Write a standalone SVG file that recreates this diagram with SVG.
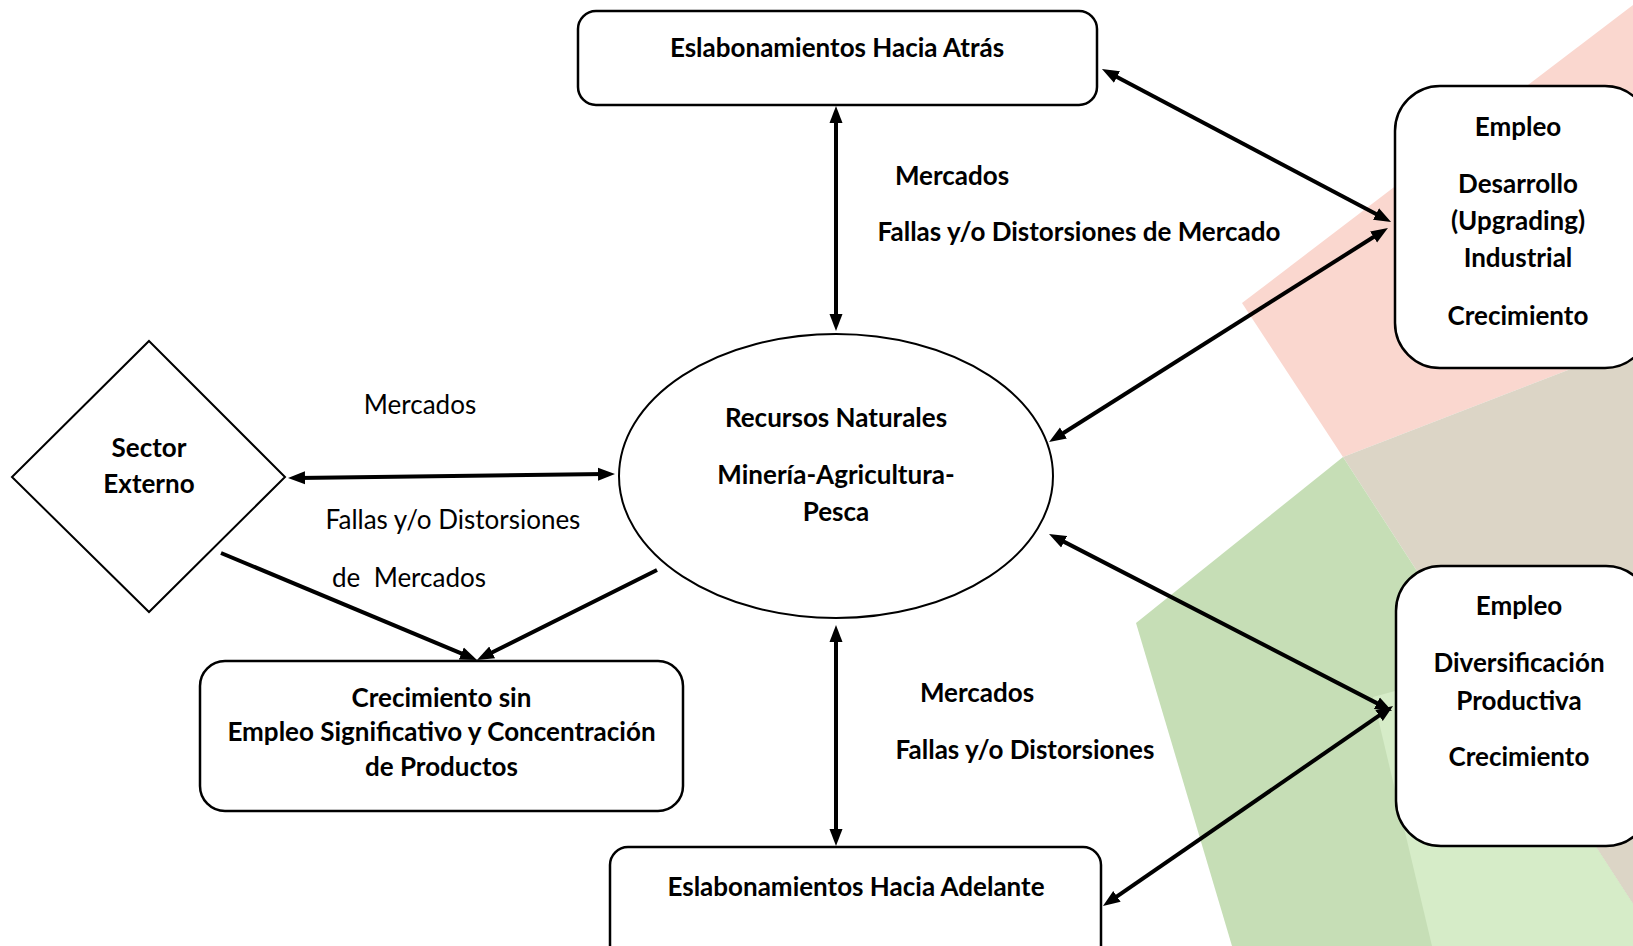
<svg xmlns="http://www.w3.org/2000/svg" width="1633" height="946" viewBox="0 0 1633 946">
<defs>
<style>
.b{font-family:Lato,"Open Sans","Liberation Sans",sans-serif;font-weight:bold;font-size:26px;fill:#000;text-anchor:middle}
.r{font-family:Lato,"Open Sans","Liberation Sans",sans-serif;font-weight:normal;font-size:26px;fill:#000;text-anchor:middle;white-space:pre}
.box{fill:#fff;stroke:#000;stroke-width:2.5}
.shape{fill:#fff;stroke:#000;stroke-width:2}
.c{stroke:#000;stroke-width:4;fill:none}
</style>
<marker id="ah" markerUnits="userSpaceOnUse" markerWidth="18" markerHeight="16" viewBox="0 0 18 16" refX="7" refY="8" orient="auto-start-reverse">
<path d="M0,1.5 L17,8 L0,14.5 Z" fill="#000"/>
</marker>
</defs>
<rect width="1633" height="946" fill="#fff"/>
<g id="background">
<polygon points="1633,5 1633,345 1343,457 1242,303" fill="#fad7cf"/>
<polygon points="1343,457 1633,345 1633,904" fill="#dcd5c6"/>
<polygon points="1136,623 1343,457 1633,904 1633,946 1232,946" fill="#c6deb6"/>
<polygon points="1373,697 1480,668 1633,904 1633,946 1432,946" fill="#d6ecc8"/>
</g>
<g id="connectors">
<line class="c" x1="836" y1="116" x2="836" y2="321" marker-start="url(#ah)" marker-end="url(#ah)"/>
<line class="c" x1="1110.8" y1="73.7" x2="1382.2" y2="217.3" marker-start="url(#ah)" marker-end="url(#ah)"/>
<line class="c" x1="1057.5" y1="436.7" x2="1379.5" y2="233.3" marker-start="url(#ah)" marker-end="url(#ah)"/>
<line class="c" x1="1057.9" y1="538.6" x2="1383.1" y2="706.4" marker-start="url(#ah)" marker-end="url(#ah)"/>
<line class="c" x1="1111.2" y1="900.3" x2="1384.8" y2="711.7" marker-start="url(#ah)" marker-end="url(#ah)"/>
<line class="c" x1="836" y1="635" x2="836" y2="836" marker-start="url(#ah)" marker-end="url(#ah)"/>
<line class="c" x1="298" y1="477.9" x2="605" y2="474.1" marker-start="url(#ah)" marker-end="url(#ah)"/>
<line class="c" x1="221" y1="553" x2="467.8" y2="656.1" marker-end="url(#ah)"/>
<line class="c" x1="657" y1="570" x2="485.9" y2="655.5" marker-end="url(#ah)"/>
</g>
<g id="label-mercados-top">
<text class="b" x="952" y="185">Mercados</text>
<text class="b" x="1079" y="241">Fallas y/o Distorsiones de Mercado</text>
</g>
<g id="label-mercados-left">
<text class="r" x="420" y="414">Mercados</text>
<text class="r" x="453" y="529">Fallas y/o Distorsiones</text>
<text class="r" x="409" y="587">de  Mercados</text>
</g>
<g id="label-mercados-bottom">
<text class="b" x="977" y="702">Mercados</text>
<text class="b" x="1025" y="759">Fallas y/o Distorsiones</text>
</g>
<g id="node-atras">
<rect class="box" x="578" y="11" width="519" height="94" rx="18"/>
<text class="b" x="837" y="57">Eslabonamientos Hacia Atrás</text>
</g>
<g id="node-desarrollo">
<rect class="box" x="1395" y="86" width="255" height="282" rx="45"/>
<text class="b" x="1518" y="136">Empleo</text>
<text class="b" x="1518" y="193">Desarrollo</text>
<text class="b" x="1518" y="230">(Upgrading)</text>
<text class="b" x="1518" y="267">Industrial</text>
<text class="b" x="1518" y="325">Crecimiento</text>
</g>
<g id="node-diversificacion">
<rect class="box" x="1396" y="566" width="255" height="280" rx="45"/>
<text class="b" x="1519" y="615">Empleo</text>
<text class="b" x="1519" y="672">Diversificación</text>
<text class="b" x="1519" y="710">Productiva</text>
<text class="b" x="1519" y="766">Crecimiento</text>
</g>
<g id="node-recursos">
<ellipse class="shape" cx="836" cy="476" rx="217" ry="142"/>
<text class="b" x="836" y="427">Recursos Naturales</text>
<text class="b" x="836" y="484">Minería-Agricultura-</text>
<text class="b" x="836" y="521">Pesca</text>
</g>
<g id="node-sector">
<polygon class="shape" points="149,341 285,477 149,612 12,477"/>
<text class="b" x="149" y="457">Sector</text>
<text class="b" x="149" y="493">Externo</text>
</g>
<g id="node-crecimiento">
<rect class="box" x="200" y="661" width="483" height="150" rx="25"/>
<text class="b" x="441.5" y="707">Crecimiento sin</text>
<text class="b" x="441.5" y="741">Empleo Significativo y Concentración</text>
<text class="b" x="441.5" y="776">de Productos</text>
</g>
<g id="node-adelante">
<rect class="box" x="610" y="847" width="491" height="120" rx="18"/>
<text class="b" x="856" y="896">Eslabonamientos Hacia Adelante</text>
</g>
</svg>
